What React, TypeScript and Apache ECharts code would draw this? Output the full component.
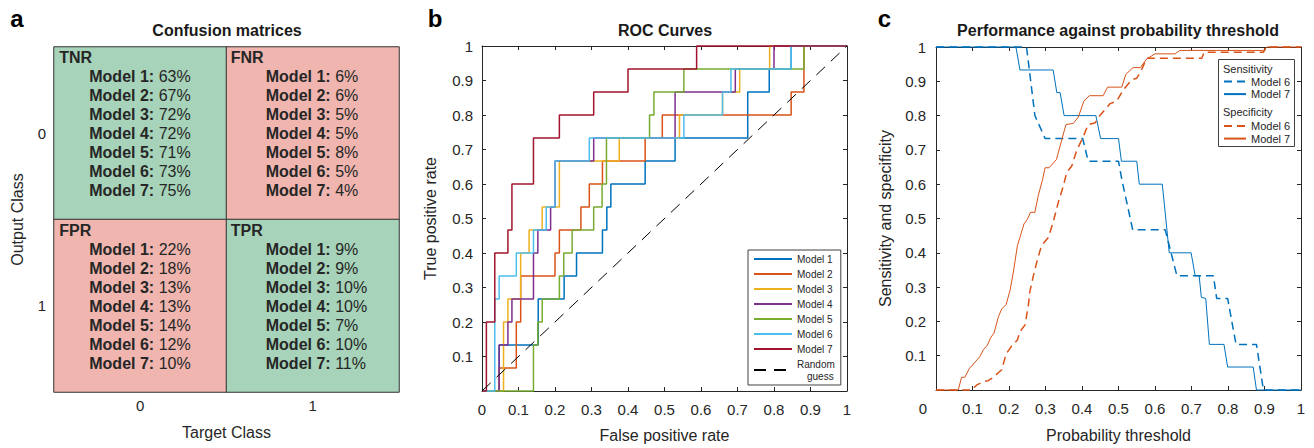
import React, { useEffect, useRef } from 'react';
import * as echarts from 'echarts';

const FONT = "'Liberation Sans', Arial, Helvetica, sans-serif";
const TXT = '#262626';
const AXC = '#262626';

// ---------- Panel a: confusion matrices ----------
const classLabels = ['0', '1'];
const matrixModels = ['Model 1', 'Model 2', 'Model 3', 'Model 4', 'Model 5', 'Model 6', 'Model 7'];
const tnrValues = [63, 67, 72, 72, 71, 73, 75];
const fnrValues = [6, 6, 5, 5, 8, 5, 4];
const fprValues = [22, 18, 13, 13, 14, 12, 10];
const tprValues = [9, 9, 10, 10, 7, 10, 11];
const cellTitles = ['TNR', 'FNR', 'FPR', 'TPR'];
const cellTarget = [0, 1, 0, 1];
const cellOutput = [0, 0, 1, 1];
const cellCorrect = [1, 0, 0, 1];
const cellValues = [tnrValues, fnrValues, fprValues, tprValues];
const GREEN = '#A6D3B9';
const RED = '#EFB5AE';

// ---------- Panel b: ROC curves (FPR, TPR at each step) ----------
const rocNames = ['Model 1', 'Model 2', 'Model 3', 'Model 4', 'Model 5', 'Model 6', 'Model 7'];
const rocColors = ['#0072BD', '#D95319', '#EDB120', '#7E2F8E', '#77AC30', '#4DBEEE', '#A2142F'];
const rocModel1: number[][] = [[0, 0], [0.047, 0.133], [0.154, 0.267], [0.225, 0.333], [0.259, 0.4], [0.33, 0.467], [0.342, 0.533], [0.353, 0.6], [0.447, 0.667], [0.529, 0.733], [0.728, 0.867], [0.787, 0.933], [0.847, 1], [1, 1]];
const rocModel2: number[][] = [[0, 0], [0.047, 0.067], [0.094, 0.2], [0.106, 0.333], [0.2, 0.4], [0.212, 0.467], [0.271, 0.533], [0.294, 0.6], [0.33, 0.667], [0.447, 0.733], [0.494, 0.8], [0.847, 0.867], [0.882, 1], [1, 1]];
const rocModel3: number[][] = [[0, 0], [0.059, 0.2], [0.071, 0.267], [0.106, 0.4], [0.129, 0.467], [0.165, 0.533], [0.212, 0.667], [0.376, 0.733], [0.541, 0.8], [0.659, 0.867], [0.706, 0.933], [0.788, 1], [1, 1]];
const rocModel4: number[][] = [[0, 0], [0.047, 0.133], [0.071, 0.2], [0.082, 0.267], [0.141, 0.4], [0.153, 0.467], [0.188, 0.533], [0.2, 0.667], [0.306, 0.733], [0.529, 0.867], [0.694, 0.933], [0.8, 1], [1, 1]];
const rocModel5: number[][] = [[0, 0], [0.141, 0.133], [0.153, 0.2], [0.165, 0.267], [0.212, 0.333], [0.224, 0.4], [0.247, 0.467], [0.306, 0.533], [0.329, 0.6], [0.341, 0.733], [0.459, 0.8], [0.471, 0.867], [0.553, 0.933], [0.882, 1], [1, 1]];
const rocModel6: number[][] = [[0, 0], [0.035, 0.267], [0.047, 0.333], [0.094, 0.4], [0.141, 0.467], [0.176, 0.533], [0.2, 0.667], [0.294, 0.733], [0.553, 0.8], [0.659, 0.867], [0.682, 0.933], [0.847, 1], [1, 1]];
const rocModel7: number[][] = [[0, 0], [0.012, 0.2], [0.035, 0.4], [0.071, 0.467], [0.082, 0.6], [0.141, 0.733], [0.212, 0.8], [0.306, 0.867], [0.4, 0.933], [0.588, 1], [1, 1]];
const rocCurves = [rocModel1, rocModel2, rocModel3, rocModel4, rocModel5, rocModel6, rocModel7];
const randomGuess: number[][] = [[0, 0], [1, 1]];

// ---------- Panel c: sensitivity / specificity vs threshold ----------
const sensModel6: number[][] = [[0, 1], [0.248, 1], [0.271, 0.8], [0.299, 0.733], [0.402, 0.733], [0.417, 0.667], [0.5, 0.667], [0.509, 0.614], [0.539, 0.467], [0.628, 0.467], [0.66, 0.333], [0.76, 0.333], [0.769, 0.267], [0.799, 0.267], [0.822, 0.133], [0.878, 0.133], [0.897, 0], [1, 0]];
const sensModel7: number[][] = [[0, 1], [0.219, 1], [0.23, 0.933], [0.321, 0.933], [0.331, 0.867], [0.34, 0.867], [0.351, 0.8], [0.438, 0.8], [0.451, 0.733], [0.5, 0.733], [0.508, 0.667], [0.55, 0.667], [0.557, 0.6], [0.62, 0.6], [0.639, 0.4], [0.699, 0.4], [0.71, 0.333], [0.721, 0.333], [0.727, 0.27], [0.739, 0.267], [0.749, 0.133], [0.789, 0.133], [0.799, 0.067], [0.869, 0.067], [0.878, 0], [1, 0]];
const specModel6: number[][] = [[0, 0], [0.098, 0], [0.111, 0.014], [0.13, 0.025], [0.143, 0.027], [0.157, 0.037], [0.165, 0.045], [0.18, 0.059], [0.192, 0.105], [0.207, 0.128], [0.223, 0.146], [0.23, 0.17], [0.244, 0.19], [0.253, 0.247], [0.257, 0.286], [0.267, 0.334], [0.276, 0.373], [0.289, 0.421], [0.308, 0.445], [0.321, 0.489], [0.335, 0.547], [0.349, 0.595], [0.358, 0.634], [0.372, 0.653], [0.385, 0.697], [0.404, 0.74], [0.417, 0.774], [0.436, 0.779], [0.449, 0.8], [0.477, 0.835], [0.495, 0.842], [0.513, 0.875], [0.536, 0.904], [0.55, 0.909], [0.563, 0.933], [0.577, 0.967], [0.728, 0.967], [0.735, 0.985], [0.897, 0.985], [0.906, 1], [1, 1]];
const specModel7: number[][] = [[0, 0], [0.061, 0], [0.07, 0.037], [0.079, 0.037], [0.091, 0.062], [0.12, 0.097], [0.13, 0.118], [0.141, 0.131], [0.15, 0.153], [0.159, 0.166], [0.171, 0.214], [0.18, 0.236], [0.192, 0.249], [0.203, 0.291], [0.212, 0.344], [0.223, 0.421], [0.23, 0.445], [0.241, 0.484], [0.25, 0.497], [0.259, 0.518], [0.271, 0.518], [0.28, 0.566], [0.292, 0.614], [0.299, 0.648], [0.31, 0.648], [0.33, 0.672], [0.356, 0.774], [0.376, 0.777], [0.39, 0.796], [0.405, 0.842], [0.42, 0.858], [0.458, 0.858], [0.47, 0.883], [0.509, 0.883], [0.52, 0.92], [0.54, 0.94], [0.56, 0.94], [0.577, 0.965], [0.6, 0.98], [0.655, 0.98], [0.668, 0.99], [0.897, 0.99], [0.906, 1], [1, 1]];

const fmt = (v: number) => String(parseFloat(v.toFixed(1)));

function valueAxis(gridIndex: number, position: string, extra: any = {}) {
  const isMain = position === 'bottom' || position === 'left';
  return {
    type: 'value',
    gridIndex,
    position,
    min: 0,
    max: 1,
    interval: 0.1,
    splitLine: { show: false },
    axisLine: { show: true, onZero: false, lineStyle: { color: AXC, width: 1 } },
    axisTick: { show: true, inside: true, length: 4, lineStyle: { color: AXC, width: 1 } },
    axisLabel: { show: isMain, fontSize: 15, color: TXT, fontFamily: FONT },
    nameTextStyle: { fontSize: 16, color: TXT, fontFamily: FONT },
    ...extra,
  };
}

export default function App() {
  const ref = useRef<HTMLDivElement>(null);
  useEffect(() => {
    if (!ref.current) return;
    const chart = echarts.init(ref.current, undefined, { renderer: 'svg' });

    const heatData = cellTitles.map((_, i) => [cellTarget[i], cellOutput[i], cellCorrect[i]]);

    const rocSeries = rocCurves.map((d, i) => ({
      type: 'line',
      name: rocNames[i],
      xAxisIndex: 1,
      yAxisIndex: 1,
      data: d,
      step: 'end',
      symbol: 'none',
      clip: false,
      color: rocColors[i],
      lineStyle: { color: rocColors[i], width: 1.5 },
      emphasis: { disabled: true },
    }));

    const cSeries = [
      { name: 'Sensitivity Model 6', data: sensModel6, color: '#0072BD', dashed: true },
      { name: 'Sensitivity Model 7', data: sensModel7, color: '#0072BD', dashed: false },
      { name: 'Specificity Model 6', data: specModel6, color: '#D95319', dashed: true },
      { name: 'Specificity Model 7', data: specModel7, color: '#D95319', dashed: false },
    ].map((s) => ({
      type: 'line',
      name: s.name,
      xAxisIndex: 3,
      yAxisIndex: 3,
      data: s.data,
      symbol: 'none',
      clip: false,
      color: s.color,
      lineStyle: { color: s.color, width: s.dashed ? 1.5 : 1, type: s.dashed ? [8, 5] : 'solid' },
      emphasis: { disabled: true },
    }));

    const stripPrefix = (n: string) => n.replace(/^\S+\s/, '');

    const option: any = {
      animation: false,
      textStyle: { fontFamily: FONT, color: TXT },
      grid: [
        { left: 54, top: 47, width: 345, height: 345 },
        { left: 482, top: 46, width: 365, height: 345 },
        { left: 936, top: 47, width: 365, height: 345 },
      ],
      xAxis: [
        {
          type: 'category',
          gridIndex: 0,
          data: classLabels,
          axisLine: { show: false },
          axisTick: { show: false },
          axisLabel: { fontSize: 15, color: TXT, margin: 6 },
          name: 'Target Class',
          nameLocation: 'middle',
          nameGap: 32,
          nameTextStyle: { fontSize: 16, color: TXT },
        },
        valueAxis(1, 'bottom', {
          name: 'False positive rate',
          nameLocation: 'middle',
          nameGap: 36,
          axisLabel: { show: true, fontSize: 15, color: TXT, margin: 11, formatter: (v: number) => fmt(v) },
        }),
        valueAxis(1, 'top'),
        valueAxis(2, 'bottom', {
          name: 'Probability threshold',
          nameLocation: 'middle',
          nameGap: 37,
          axisLabel: {
            show: true,
            fontSize: 15,
            color: TXT,
            margin: 11,
            formatter: (v: number) => (v === 0 ? '{z|0}' : fmt(v)),
            rich: { z: { fontSize: 15, color: TXT, padding: [0, 26, 0, 0] } },
          },
        }),
        valueAxis(2, 'top'),
      ],
      yAxis: [
        {
          type: 'category',
          gridIndex: 0,
          data: classLabels,
          inverse: true,
          axisLine: { show: false },
          axisTick: { show: false },
          axisLabel: { fontSize: 15, color: TXT, margin: 8 },
          name: 'Output Class',
          nameLocation: 'middle',
          nameGap: 29,
          nameTextStyle: { fontSize: 16, color: TXT },
        },
        valueAxis(1, 'left', {
          name: 'True positive rate',
          nameLocation: 'middle',
          nameGap: 44,
          axisLabel: { show: true, fontSize: 15, color: TXT, margin: 9, formatter: (v: number) => (v === 0 ? '' : fmt(v)) },
        }),
        valueAxis(1, 'right'),
        valueAxis(2, 'left', {
          name: 'Sensitivity and specificity',
          nameLocation: 'middle',
          nameGap: 43,
          axisLabel: { show: true, fontSize: 15, color: TXT, margin: 10, formatter: (v: number) => (v === 0 ? '' : fmt(v)) },
        }),
        valueAxis(2, 'right'),
      ],
      visualMap: {
        type: 'piecewise',
        show: false,
        seriesIndex: 0,
        dimension: 2,
        pieces: [
          { value: 1, color: GREEN },
          { value: 0, color: RED },
        ],
      },
      legend: [
        {
          left: 748,
          top: 250,
          orient: 'vertical',
          padding: [3, 6, 3, 5],
          itemGap: 3,
          itemWidth: 38,
          itemHeight: 12,
          borderColor: '#404040',
          borderWidth: 1,
          backgroundColor: '#fff',
          selectedMode: false,
          itemStyle: { opacity: 0 },
          textStyle: { fontSize: 10, lineHeight: 12, color: TXT, rich: { g: { fontSize: 10, lineHeight: 12, color: TXT, padding: [0, 0, 0, 10] } } },
          data: [...rocNames, 'Random guess'],
          formatter: (n: string) => (n === 'Random guess' ? 'Random\n{g|guess}' : n),
        },
        {
          left: 1223,
          top: 76,
          orient: 'vertical',
          padding: 0,
          itemGap: 1.6,
          itemWidth: 22,
          itemHeight: 11,
          selectedMode: false,
          itemStyle: { opacity: 0 },
          textStyle: { fontSize: 11, lineHeight: 11, color: TXT },
          data: ['Sensitivity Model 6', 'Sensitivity Model 7'],
          formatter: stripPrefix,
        },
        {
          left: 1223,
          top: 120.5,
          orient: 'vertical',
          padding: 0,
          itemGap: 1.6,
          itemWidth: 22,
          itemHeight: 11,
          selectedMode: false,
          itemStyle: { opacity: 0 },
          textStyle: { fontSize: 11, lineHeight: 11, color: TXT },
          data: ['Specificity Model 6', 'Specificity Model 7'],
          formatter: stripPrefix,
        },
      ],
      graphic: [
        { type: 'text', x: 17, y: 18, style: { text: 'a', font: `bold 24px ${FONT}`, fill: '#000', align: 'center', verticalAlign: 'middle', textAlign: 'center', textVerticalAlign: 'middle' } },
        { type: 'text', x: 435, y: 18, style: { text: 'b', font: `bold 24px ${FONT}`, fill: '#000', align: 'center', verticalAlign: 'middle', textAlign: 'center', textVerticalAlign: 'middle' } },
        { type: 'text', x: 884.5, y: 18, style: { text: 'c', font: `bold 24px ${FONT}`, fill: '#000', align: 'center', verticalAlign: 'middle', textAlign: 'center', textVerticalAlign: 'middle' } },
        { type: 'text', x: 227, y: 30.5, style: { text: 'Confusion matrices', font: `bold 16px ${FONT}`, fill: '#1a1a1a', align: 'center', verticalAlign: 'middle', textAlign: 'center', textVerticalAlign: 'middle' } },
        { type: 'text', x: 665, y: 30.5, style: { text: 'ROC Curves', font: `bold 16px ${FONT}`, fill: '#1a1a1a', align: 'center', verticalAlign: 'middle', textAlign: 'center', textVerticalAlign: 'middle' } },
        { type: 'text', x: 1118, y: 30.5, style: { text: 'Performance against probability threshold', font: `bold 16px ${FONT}`, fill: '#1a1a1a', align: 'center', verticalAlign: 'middle', textAlign: 'center', textVerticalAlign: 'middle' } },
        { type: 'rect', z: 50, shape: { x: 1218.5, y: 59.5, width: 76, height: 87 }, style: { fill: 'none', stroke: '#404040', lineWidth: 1 } },
        { type: 'text', z: 50, x: 1223, y: 68.5, style: { text: 'Sensitivity', font: `11px ${FONT}`, fill: TXT, align: 'left', verticalAlign: 'middle', textAlign: 'left', textVerticalAlign: 'middle' } },
        { type: 'text', z: 50, x: 1223, y: 111.5, style: { text: 'Specificity', font: `11px ${FONT}`, fill: TXT, align: 'left', verticalAlign: 'middle', textAlign: 'left', textVerticalAlign: 'middle' } },
      ],
      series: [
        {
          type: 'heatmap',
          xAxisIndex: 0,
          yAxisIndex: 0,
          data: heatData,
          itemStyle: { borderColor: '#333', borderWidth: 1 },
          emphasis: { disabled: true },
          label: {
            show: true,
            position: [2, 2],
            color: TXT,
            formatter: (p: any) => {
              const v = p.value as number[];
              const idx = cellTitles.findIndex((_, i) => cellTarget[i] === v[0] && cellOutput[i] === v[1]);
              const col = v[0] === 0 ? '0' : '1';
              const lines = [`{h${col}|${cellTitles[idx]}}`];
              cellValues[idx].forEach((val, i) => {
                lines.push(`{m${col}|${matrixModels[i]}:}{v|${val}%}`);
              });
              return lines.join('\n');
            },
            rich: {
              h0: { fontSize: 16, fontWeight: 'bold', lineHeight: 19, color: TXT, padding: [0, 0, 0, 4] },
              h1: { fontSize: 16, fontWeight: 'bold', lineHeight: 19, color: TXT, padding: [0, 0, 0, 3] },
              m0: { fontSize: 16, fontWeight: 'bold', lineHeight: 19, color: TXT, padding: [0, 4.5, 0, 34] },
              m1: { fontSize: 16, fontWeight: 'bold', lineHeight: 19, color: TXT, padding: [0, 4.5, 0, 38] },
              v: { fontSize: 16, lineHeight: 19, color: TXT },
            },
          },
        },
        ...rocSeries,
        {
          type: 'line',
          name: 'Random guess',
          xAxisIndex: 1,
          yAxisIndex: 1,
          data: randomGuess,
          symbol: 'none',
          clip: false,
          color: '#000',
          lineStyle: { color: '#000', width: 1, type: [12, 8] },
          emphasis: { disabled: true },
        },
        ...cSeries,
      ],
    };

    chart.setOption(option);
    return () => chart.dispose();
  }, []);

  return <div ref={ref} style={{ position: 'absolute', left: 0, top: 0, width: 1314, height: 448 }} />;
}
